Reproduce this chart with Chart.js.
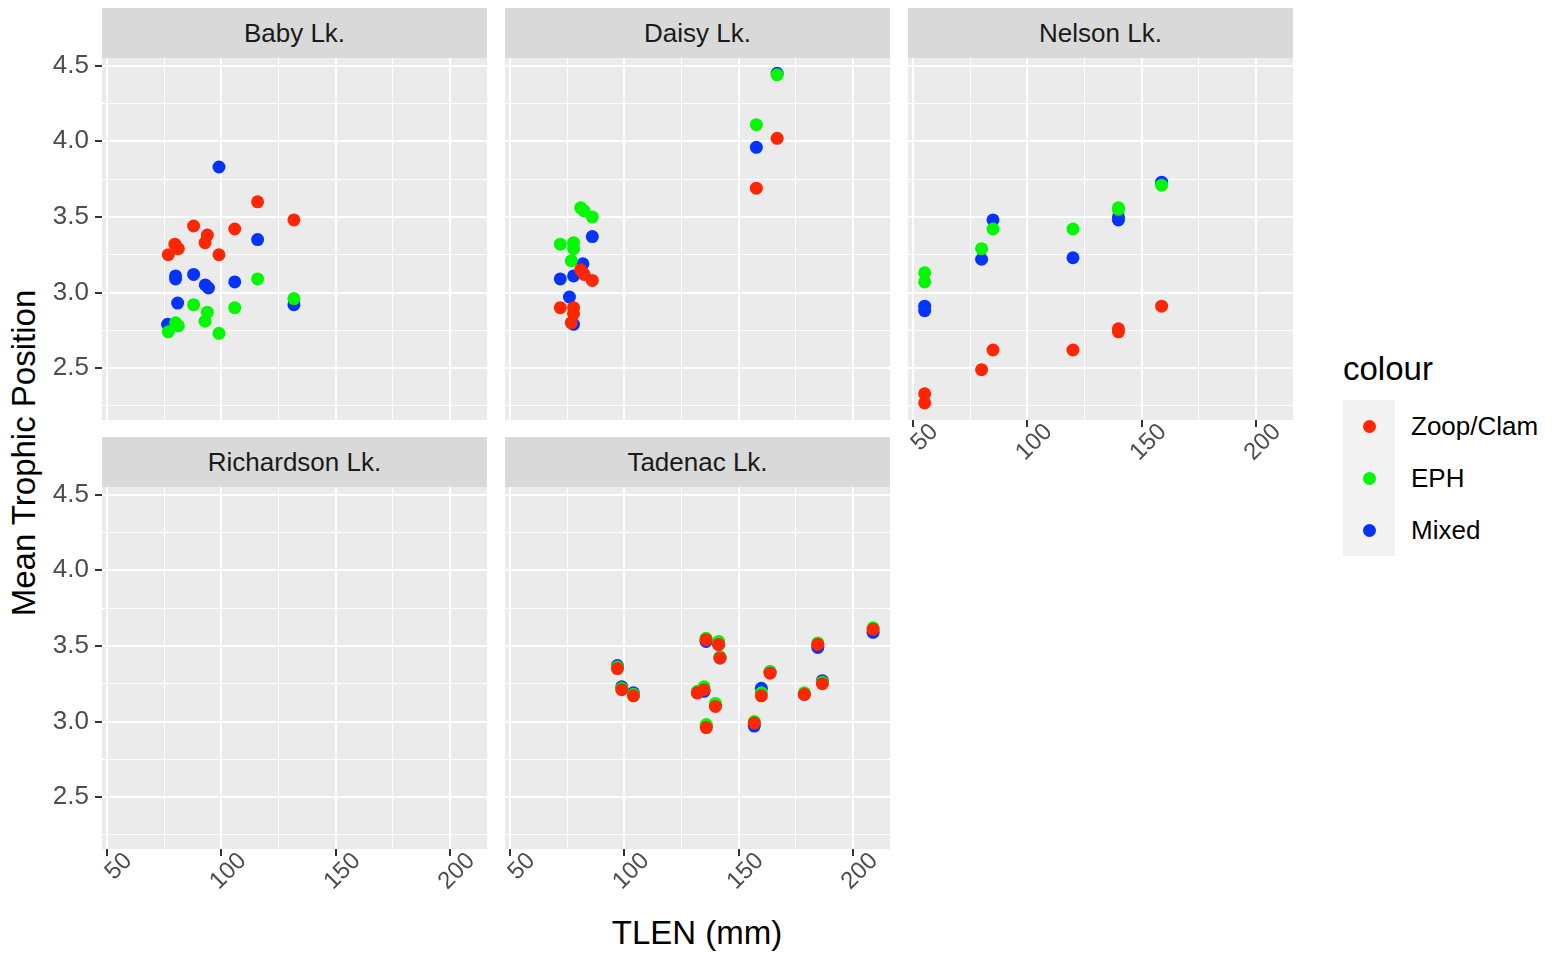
<!DOCTYPE html>
<html>
<head>
<meta charset="utf-8">
<title>Mean Trophic Position by TLEN</title>
<script src="https://cdn.jsdelivr.net/npm/chart.js@4.4.0/dist/chart.umd.min.js"></script>
<style>
  body { margin: 0; background: #ffffff; font-family: "Liberation Sans", Arial, Helvetica, sans-serif; }
  #fig { position: relative; width: 1556px; height: 953px; overflow: hidden; background: #ffffff; }
  #fig canvas { position: absolute; }
  .strip { position: absolute; height: 50px; width: 385px; background: #D9D9D9; color: #1A1A1A;
           font-size: 26px; display: flex; align-items: center; justify-content: center; }
  .axis-title { position: absolute; font-size: 33px; color: #000000; white-space: nowrap; }
  #ytitle { left: 24px; top: 453px; transform: translate(-50%, -50%) rotate(-90deg); }
  #xtitle { left: 697px; top: 933px; transform: translate(-50%, -50%); }
  #legend { position: absolute; left: 1343px; top: 351px; }
  #legend .title { font-size: 33px; color: #000; height: 49px; line-height: 36px; }
  #legend .row { position: relative; height: 52px; }
  #legend .key { position: absolute; left: 0; top: 0; width: 52px; height: 52px; background: #F2F2F2; }
  #legend .dot { position: absolute; left: 19.5px; top: 19.5px; width: 13px; height: 13px; border-radius: 50%; }
  #legend .label { position: absolute; left: 68px; top: 0; height: 52px; line-height: 52px; font-size: 26px; color: #000; }
</style>
</head>
<body>
<div id="fig">
  <div id="ytitle" class="axis-title">Mean Trophic Position</div>
  <div id="xtitle" class="axis-title">TLEN (mm)</div>
  <div id="legend"></div>
</div>
<script>
// Series (legend order) and colours
const seriesNames = ['Zoop/Clam', 'EPH', 'Mixed'];
const seriesColors = ['#FF2600', '#00F900', '#0433FF'];

// Axis ranges and ticks (shared by all facets)
const xRange = [47.7, 216.2];
const yRange = [2.157, 4.551];
const xTickValues = [50, 75, 100, 125, 150, 175, 200];
const yTickValues = [2.25, 2.5, 2.75, 3, 3.25, 3.5, 3.75, 4, 4.25, 4.5];

// [TLEN, mean trophic position]
const babyZoop = [[115.8,3.60],[131.7,3.48],[87.8,3.44],[105.8,3.42],[93.8,3.38],[92.8,3.33],[79.6,3.32],[81.1,3.29],[76.7,3.25],[98.9,3.25]];
const babyEph = [[115.8,3.09],[131.7,2.96],[87.8,2.92],[105.8,2.90],[93.8,2.87],[92.8,2.81],[79.9,2.80],[81.1,2.78],[76.7,2.74],[98.9,2.73]];
const babyMixed = [[98.9,3.83],[115.8,3.35],[79.9,3.11],[79.9,3.09],[87.8,3.12],[92.9,3.05],[94.3,3.03],[105.8,3.07],[80.8,2.93],[131.7,2.92],[76.4,2.79]];

const daisyZoop = [[166.8,4.02],[157.7,3.69],[80.8,3.15],[82.3,3.12],[85.9,3.08],[71.9,2.90],[77.7,2.90],[77.7,2.86],[76.7,2.80]];
const daisyEph = [[166.8,4.44],[157.7,4.11],[80.8,3.56],[82.3,3.54],[85.9,3.50],[71.9,3.32],[77.7,3.33],[77.7,3.29],[76.7,3.21]];
const daisyMixed = [[166.8,4.45],[157.7,3.96],[85.9,3.37],[81.8,3.19],[77.7,3.11],[71.9,3.09],[75.9,2.97],[77.7,2.79]];

const nelsonZoop = [[55.0,2.33],[55.0,2.27],[79.9,2.49],[84.9,2.62],[119.9,2.62],[139.8,2.76],[139.8,2.74],[158.7,2.91]];
const nelsonEph = [[55.0,3.13],[55.0,3.07],[79.9,3.29],[84.9,3.42],[119.9,3.42],[139.8,3.56],[139.8,3.55],[158.7,3.71]];
const nelsonMixed = [[55.0,2.91],[55.0,2.88],[79.9,3.22],[84.9,3.48],[119.9,3.23],[139.8,3.48],[139.8,3.50],[158.7,3.73]];

const richardsonZoop = [];
const richardsonEph = [];
const richardsonMixed = [];

const tadenacZoop = [[208.8,3.61],[184.6,3.51],[135.7,3.54],[141.2,3.51],[141.8,3.42],[96.9,3.35],[98.8,3.21],[103.9,3.17],[131.9,3.19],[134.8,3.21],[139.8,3.10],[135.8,2.96],[156.8,2.99],[159.9,3.17],[163.7,3.32],[178.7,3.18],[186.6,3.25]];
const tadenacEph = [[208.8,3.62],[184.6,3.52],[135.7,3.55],[141.2,3.53],[141.8,3.43],[96.9,3.36],[98.8,3.22],[103.9,3.18],[131.9,3.20],[134.8,3.23],[139.8,3.12],[135.8,2.98],[156.8,3.00],[159.9,3.19],[163.7,3.33],[178.7,3.19],[186.6,3.26]];
const tadenacMixed = [[208.8,3.59],[184.6,3.49],[135.7,3.53],[141.2,3.51],[141.8,3.42],[96.9,3.37],[98.8,3.23],[103.9,3.19],[131.9,3.19],[134.8,3.20],[139.8,3.11],[135.8,2.97],[156.8,2.97],[159.9,3.22],[163.7,3.33],[178.7,3.18],[186.6,3.27]];

// Facet layout: plot area position in the page
const panels = [
  { name: 'Baby Lk.',       left: 102, top: 58,  series: [babyZoop, babyEph, babyMixed],                   yLabels: true,  xLabels: false },
  { name: 'Daisy Lk.',      left: 505, top: 58,  series: [daisyZoop, daisyEph, daisyMixed],                yLabels: false, xLabels: false },
  { name: 'Nelson Lk.',     left: 908, top: 58,  series: [nelsonZoop, nelsonEph, nelsonMixed],             yLabels: false, xLabels: true },
  { name: 'Richardson Lk.', left: 102, top: 487, series: [richardsonZoop, richardsonEph, richardsonMixed],  yLabels: true,  xLabels: true },
  { name: 'Tadenac Lk.',    left: 505, top: 487, series: [tadenacZoop, tadenacEph, tadenacMixed],          yLabels: false, xLabels: true }
];

const PANEL_W = 385;
const PANEL_H = 362;
const STRIP_H = 50;
const FONT = '"Liberation Sans", Arial, Helvetica, sans-serif';

Chart.defaults.font.family = FONT;

function isMajorX(v) { return v % 50 === 0; }
function isMajorY(v) { return Math.abs(v * 2 - Math.round(v * 2)) < 1e-6; }

// grey panel background behind the grid
const panelBackground = {
  id: 'panelBackground',
  beforeDraw(chart) {
    const a = chart.chartArea;
    const ctx = chart.ctx;
    ctx.save();
    ctx.fillStyle = '#EBEBEB';
    ctx.fillRect(a.left, a.top, a.right - a.left, a.bottom - a.top);
    ctx.restore();
  }
};

function makePanel(p) {
  const fig = document.getElementById('fig');
  const yW = p.yLabels ? 100 : 20;
  const xH = p.xLabels ? 60 : 0;
  const padTop = 12;

  const strip = document.createElement('div');
  strip.className = 'strip';
  strip.style.left = p.left + 'px';
  strip.style.top = (p.top - STRIP_H) + 'px';
  strip.textContent = p.name;
  fig.appendChild(strip);

  const canvas = document.createElement('canvas');
  canvas.width = yW + PANEL_W;
  canvas.height = padTop + PANEL_H + xH;
  canvas.style.left = (p.left - yW) + 'px';
  canvas.style.top = (p.top - padTop) + 'px';
  fig.appendChild(canvas);

  const datasets = p.series.map((pts, i) => ({
    label: seriesNames[i],
    data: pts.map(d => ({ x: d[0], y: d[1] })),
    backgroundColor: seriesColors[i],
    pointBackgroundColor: seriesColors[i],
    pointBorderWidth: 0,
    pointRadius: 6.5,
    showLine: false
  }));

  new Chart(canvas, {
    type: 'scatter',
    data: { datasets: datasets },
    plugins: [panelBackground],
    options: {
      responsive: false,
      devicePixelRatio: 1,
      animation: false,
      events: [],
      layout: { autoPadding: false, padding: { top: padTop, left: 0, right: 0, bottom: 0 } },
      plugins: { legend: { display: false }, tooltip: { enabled: false } },
      scales: {
        x: {
          type: 'linear',
          min: xRange[0],
          max: xRange[1],
          afterBuildTicks: scale => { scale.ticks = xTickValues.map(v => ({ value: v })); },
          afterFit: scale => {
            scale.height = xH;
            scale.paddingLeft = 0; scale.paddingRight = 0;
            scale.paddingTop = 0; scale.paddingBottom = 0;
          },
          border: { display: false },
          grid: {
            color: '#FFFFFF',
            lineWidth: c => (c.tick && isMajorX(c.tick.value)) ? 2 : 1,
            drawTicks: p.xLabels,
            tickLength: 7,
            tickWidth: 2,
            tickColor: c => (c.tick && isMajorX(c.tick.value)) ? '#333333' : 'rgba(0,0,0,0)'
          },
          ticks: {
            display: p.xLabels,
            autoSkip: false,
            minRotation: 45,
            maxRotation: 45,
            padding: -9,
            labelOffset: 21,
            color: '#4D4D4D',
            font: { size: 24, family: FONT },
            callback: v => isMajorX(v) ? String(v) : ''
          }
        },
        y: {
          type: 'linear',
          min: yRange[0],
          max: yRange[1],
          afterBuildTicks: scale => { scale.ticks = yTickValues.map(v => ({ value: v })); },
          afterFit: scale => {
            scale.width = yW;
            scale.paddingLeft = 0; scale.paddingRight = 0;
            scale.paddingTop = 0; scale.paddingBottom = 0;
          },
          border: { display: false },
          grid: {
            color: '#FFFFFF',
            lineWidth: c => (c.tick && isMajorY(c.tick.value)) ? 2 : 1,
            drawTicks: p.yLabels,
            tickLength: 7,
            tickWidth: 2,
            tickColor: c => (c.tick && isMajorY(c.tick.value)) ? '#333333' : 'rgba(0,0,0,0)'
          },
          ticks: {
            display: p.yLabels,
            autoSkip: false,
            padding: 6,
            color: '#4D4D4D',
            font: { size: 26, family: FONT },
            callback: v => isMajorY(v) ? v.toFixed(1) : ''
          }
        }
      }
    }
  });
}

panels.forEach(makePanel);

// legend
const legend = document.getElementById('legend');
const lt = document.createElement('div');
lt.className = 'title';
lt.textContent = 'colour';
legend.appendChild(lt);
seriesNames.forEach((name, i) => {
  const row = document.createElement('div');
  row.className = 'row';
  row.innerHTML = '<div class="key"><div class="dot" style="background:' + seriesColors[i] + '"></div></div>' +
                  '<div class="label">' + name + '</div>';
  legend.appendChild(row);
});
</script>
</body>
</html>
